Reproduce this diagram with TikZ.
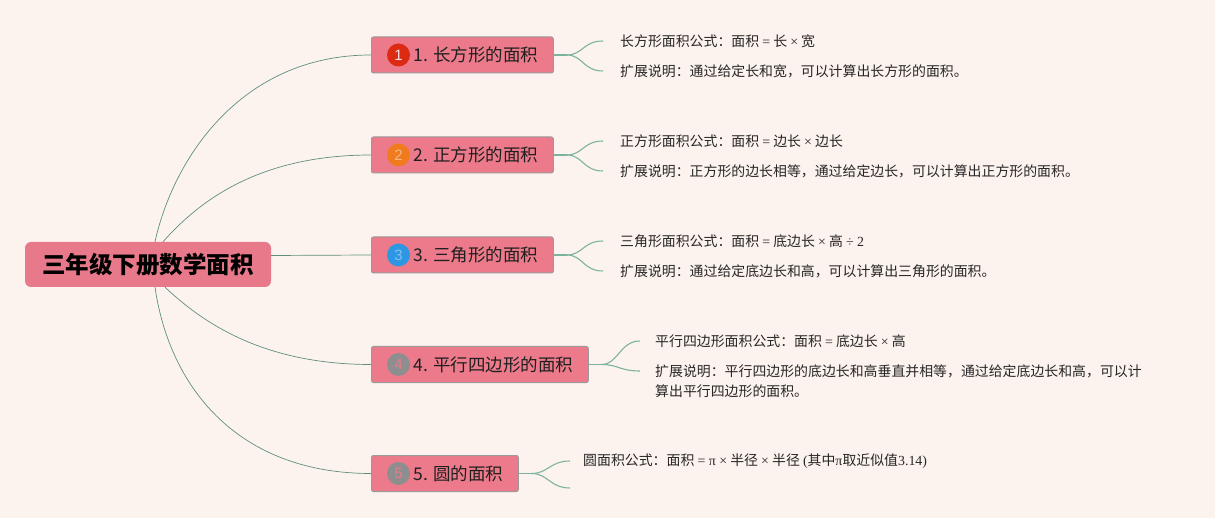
\documentclass[tikz,border=0pt]{standalone}
\usepackage{fontspec}
\setmainfont{Noto Sans CJK SC}
\newfontfamily\lser{Liberation Serif}
\newfontfamily\lsans{Liberation Sans}
\usetikzlibrary{calc}
\definecolor{bg}{HTML}{FDF3EE}
\definecolor{pinkf}{HTML}{EC7A8B}
\definecolor{rootf}{HTML}{E8798A}
\definecolor{edgec}{HTML}{9A9A9A}
\definecolor{linkc}{HTML}{5E9079}
\definecolor{sublinkc}{HTML}{7DB39A}
\definecolor{txt}{HTML}{262626}
\definecolor{bred}{HTML}{DD2A12}
\definecolor{borange}{HTML}{F07A1E}
\definecolor{bblue}{HTML}{2D97E3}
\definecolor{bgrey}{HTML}{8E8E8E}
\tikzset{
  rootbox/.style={fill=rootf, rounded corners=6pt, minimum width=246pt, minimum height=45pt,
    inner sep=0pt, font=\fontsize{23.5pt}{26pt}\selectfont\bfseries, text=black},
  topic/.style={fill=pinkf, draw=edgec, line width=1pt, rounded corners=2pt, anchor=west,
    minimum height=36pt, inner xsep=15pt, inner ysep=0pt,
    font=\fontsize{17.5pt}{20pt}\selectfont, text=black!88},
  badge/.style={circle, minimum size=23pt, inner sep=0pt, font=\lsans\fontsize{15pt}{15pt}\selectfont},
  leaf/.style={anchor=west, inner sep=0pt, font=\fontsize{13.9pt}{20pt}\selectfont, text=txt, align=left},
  rootlink/.style={draw=linkc, line width=0.7pt},
  sublink/.style={draw=sublinkc, line width=1.1pt},
}
\begin{document}
\begin{tikzpicture}[x=1pt,y=-1pt]
\useasboundingbox[fill=bg] (0,0) rectangle (1215,518);

% root
\node[rootbox] (root) at (148,264.5) {三年级下册数学面积};

% topics
\node[topic] (t1) at (371,55) {\hspace{27pt}1. 长方形的面积};
\node[topic] (t2) at (371,155) {\hspace{27pt}2. 正方形的面积};
\node[topic] (t3) at (371,255) {\hspace{27pt}3. 三角形的面积};
\node[topic] (t4) at (371,364.5) {\hspace{27pt}4. 平行四边形的面积};
\node[topic] (t5) at (371,473.5) {\hspace{27pt}5. 圆的面积};

% badges
\node[badge, fill=bred, text=white!75!pinkf] (b1) at (398.5,55) {1};
\node[badge, fill=borange, text=white!45!borange] (b2) at (398.5,155) {2};
\node[badge, fill=bblue, text=white!40!bblue] (b3) at (398.5,255) {3};
\node[badge, fill=bgrey, text=pinkf] (b4) at (398.5,364.5) {4};
\node[badge, fill=bgrey, text=pinkf] (b5) at (398.5,473.5) {5};

% leaves
\node[leaf] (c11) at (620,41) {长方形面积公式：面积 {\lser =} 长 {\lser ×} 宽};
\node[leaf] (c12) at (620,71) {扩展说明：通过给定长和宽，可以计算出长方形的面积。};
\node[leaf] (c21) at (620,141) {正方形面积公式：面积 {\lser =} 边长 {\lser ×} 边长};
\node[leaf] (c22) at (620,171) {扩展说明：正方形的边长相等，通过给定边长，可以计算出正方形的面积。};
\node[leaf] (c31) at (620,241) {三角形面积公式：面积 {\lser =} 底边长 {\lser ×} 高 {\lser ÷ 2}};
\node[leaf] (c32) at (620,271) {扩展说明：通过给定底边长和高，可以计算出三角形的面积。};
\node[leaf] (c41) at (655,341) {平行四边形面积公式：面积 {\lser =} 底边长 {\lser ×} 高};
\node[leaf] (c42) at (655,381) {扩展说明：平行四边形的底边长和高垂直并相等，通过给定底边长和高，可以计\\算出平行四边形的面积。};
\node[leaf] (c51) at (583,461) {圆面积公式：面积 {\lser = π ×} 半径 {\lser ×} 半径 {\lser (}其中{\lser π}取近似值{\lser 3.14)}};
\coordinate (c52) at (583,488);

% root links
\draw[rootlink] ([xshift=7pt]root.north) .. controls (173,160) and (240,55) .. (t1.west);
\draw[rootlink] ([xshift=15pt]root.north) .. controls (200,200) and (260,155) .. (t2.west);
\draw[rootlink] ([yshift=9pt]root.east) -- (t3.west);
\draw[rootlink] ([xshift=17pt]root.south) .. controls (200,320) and (260,364.5) .. (t4.west);
\draw[rootlink] ([xshift=7pt]root.south) .. controls (170,390) and (240,473.5) .. (t5.west);

% sub links
\foreach \t/\a/\b in {t1/c11/c12, t2/c21/c22, t3/c31/c32}{
  \draw[sublink] (\t.east) -- ++(13,0) coordinate (j);
  \draw[sublink] (j) .. controls +(16,0) and +(-20,0) .. ($(\a.west)+(-17,0)$);
  \draw[sublink] (j) .. controls +(16,0) and +(-20,0) .. ($(\b.west)+(-17,0)$);
}
\draw[sublink] (t4.east) -- ++(13,0) coordinate (j4);
\draw[sublink] (j4) .. controls +(16,0) and +(-20,0) .. ($(c41.west)+(-15,0)$);
\draw[sublink] (j4) .. controls +(16,0) and +(-20,0) .. ($(c42.west)+(-15,-10)$);
\draw[sublink] (t5.east) -- ++(13,0) coordinate (j5);
\draw[sublink] (j5) .. controls +(16,0) and +(-20,0) .. ($(c51.west)+(-13,0)$);
\draw[sublink] (j5) .. controls +(16,0) and +(-20,0) .. ($(c52)+(-13,0)$);
\end{tikzpicture}
\end{document}
